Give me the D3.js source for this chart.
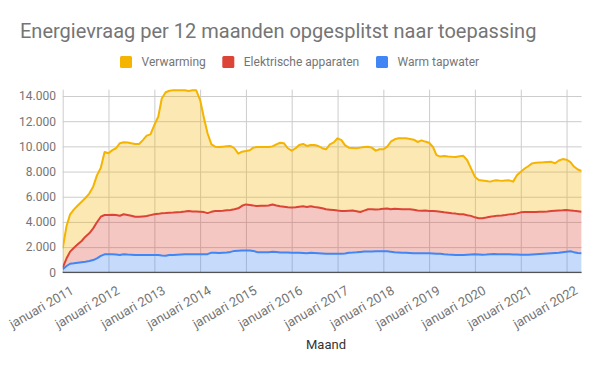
<!DOCTYPE html>
<html>
<head>
<meta charset="utf-8">
<script src="https://cdn.jsdelivr.net/npm/d3@7"></script>
<style>
  body { margin: 0; background: #fff; }
  text { font-family: Roboto, "Noto Sans", sans-serif; }
</style>
</head>
<body>
<div id="chart"></div>
<script>
// series, top of the stack first (legend order)
var seriesNames = ["Verwarming", "Elektrische apparaten", "Warm tapwater"];
var seriesColors = ["#f4b400", "#db4437", "#4285f4"];

// monthly values, januari 2011 .. mei 2022
var verwarming = [
  1530,2590,2960,3045,3080,3115,3070,3155,3310,3730,3885,5000,
  4900,5130,5300,5755,5715,5750,5745,5775,5775,6060,6380,6410,
  7095,7710,9110,9600,9690,9710,9690,9670,9630,9530,9620,9630,
  8880,7450,6340,5360,5115,5080,5085,5080,5080,4850,4340,4300,
  4240,4340,4600,4685,4670,4670,4650,4620,4860,5050,5030,4680,
  4520,4690,4910,4950,4840,4870,4920,4880,4770,4770,5190,5380,
  5740,5630,5240,5020,4980,5000,5110,5050,4965,4900,4670,4760,
  4730,4915,5370,5520,5610,5630,5630,5575,5560,5450,5600,5480,
  5420,5080,4470,4380,4480,4470,4480,4500,4610,4645,4370,3770,
  3225,3030,2990,2900,2790,2820,2800,2750,2740,2700,2570,3020,
  3230,3460,3630,3860,3900,3910,3915,3930,3900,3770,3970,4070,
  3990,3830,3520,3310,3230
];
var elektrisch = [
  130,610,960,1240,1460,1685,1990,2205,2520,2860,3115,3120,
  3120,3140,3130,3115,3175,3140,3095,3035,3035,3060,3090,3160,
  3225,3270,3350,3380,3360,3360,3360,3360,3390,3440,3400,3390,
  3370,3350,3260,3240,3300,3330,3330,3340,3330,3300,3360,3550,
  3650,3620,3600,3665,3680,3690,3700,3750,3680,3670,3640,3600,
  3580,3600,3650,3710,3680,3680,3650,3630,3580,3520,3490,3460,
  3420,3390,3360,3320,3330,3260,3170,3250,3350,3340,3325,3345,
  3375,3395,3360,3440,3450,3450,3450,3470,3460,3390,3370,3390,
  3360,3370,3360,3340,3330,3320,3290,3280,3235,3230,3130,3060,
  2935,2880,2900,2940,2980,3010,3060,3080,3120,3170,3210,3270,
  3360,3380,3390,3370,3350,3340,3335,3330,3350,3350,3350,3320,
  3310,3250,3280,3310,3300
];
var tapwater = [
  240,500,680,715,760,800,840,890,970,1110,1300,1430,
  1430,1430,1420,1380,1430,1410,1400,1380,1380,1380,1380,1380,
  1380,1370,1340,1320,1370,1380,1400,1420,1430,1430,1430,1430,
  1430,1430,1440,1560,1560,1540,1560,1580,1620,1700,1720,1730,
  1740,1730,1700,1600,1600,1590,1600,1630,1620,1570,1570,1570,
  1560,1560,1550,1530,1510,1560,1540,1520,1500,1480,1480,1480,
  1480,1480,1500,1560,1570,1590,1620,1650,1660,1660,1665,1665,
  1665,1665,1640,1600,1580,1560,1560,1540,1510,1510,1510,1510,
  1510,1500,1480,1470,1430,1410,1400,1380,1375,1375,1400,1420,
  1430,1420,1400,1410,1430,1450,1440,1430,1430,1430,1420,1410,
  1400,1400,1400,1420,1440,1460,1480,1500,1520,1540,1560,1600,
  1640,1665,1600,1540,1510
];

var yTicks = [0, 2000, 4000, 6000, 8000, 10000, 12000, 14000];
var xTickYears = [2011,2012,2013,2014,2015,2016,2017,2018,2019,2020,2021,2022];
var xTickLabels = ["januari 2011","januari 2012","januari 2013","januari 2014",
  "januari 2015","januari 2016","januari 2017","januari 2018","januari 2019",
  "januari 2020","januari 2021","januari 2022"];

var width = 600, height = 371;
var plot = {left: 62.7, right: 581.6, top: 89.7, bottom: 272.3};

var svg = d3.select("#chart").append("svg")
  .attr("width", width)
  .attr("height", height);

var months = d3.timeMonth.range(new Date(2011, 0, 1), new Date(2022, 5, 1));
var rows = months.map(function(d, i) {
  return {date: d, tap: tapwater[i], elek: elektrisch[i], verw: verwarming[i]};
});

var x = d3.scaleTime()
  .domain([months[0], months[months.length - 1]])
  .range([plot.left, plot.right]);
var y = d3.scaleLinear()
  .domain([0, 14500])
  .range([plot.bottom, plot.top]);

var nl = d3.formatLocale({decimal: ",", thousands: ".", grouping: [3], currency: ["€", ""]});

// title
svg.append("text")
  .attr("x", 20).attr("y", 38)
  .style("font-size", "20px")
  .style("fill", "#757575")
  .text("Energievraag per 12 maanden opgesplitst naar toepassing");

// legend
var legendX = [120, 222.3, 376];
seriesNames.forEach(function(name, i) {
  var g = svg.append("g").attr("transform", "translate(" + legendX[i] + ",56)");
  g.append("rect").attr("width", 12).attr("height", 12).attr("rx", 1.5)
    .style("fill", seriesColors[i]);
  g.append("text").attr("x", 21.5).attr("y", 10.4)
    .style("font-size", "12px").style("fill", "#757575")
    .text(name);
});

// horizontal gridlines + y labels
var yAxis = svg.append("g")
  .attr("transform", "translate(" + plot.left + ",0)")
  .call(d3.axisLeft(y).tickValues(yTicks).tickSize(-(plot.right - plot.left))
    .tickPadding(6.7).tickFormat(nl.format(",")));
yAxis.select(".domain").remove();
yAxis.selectAll("line").style("stroke", "#cccccc");
yAxis.selectAll("text").style("font-size", "12px").style("fill", "#757575")
  .attr("font-family", null);

// vertical gridlines at each januari
var janDates = xTickYears.map(function(yr) { return new Date(yr, 0, 1); });
var xGrid = svg.append("g")
  .attr("transform", "translate(0," + plot.bottom + ")")
  .call(d3.axisBottom(x).tickValues(janDates).tickSize(-(plot.bottom - plot.top)).tickFormat(""));
xGrid.select(".domain").remove();
xGrid.selectAll("line").style("stroke", "#cccccc");

// stacked areas
var keys = ["tap", "elek", "verw"];
var stackColors = ["#4285f4", "#db4437", "#f4b400"];
var layers = d3.stack().keys(keys)(rows);

var area = d3.area()
  .x(function(d) { return x(d.data.date); })
  .y0(function(d) { return y(d[0]); })
  .y1(function(d) { return y(d[1]); });
var line = d3.line()
  .x(function(d) { return x(d.data.date); })
  .y(function(d) { return y(d[1]); });

svg.append("defs").append("clipPath").attr("id", "clip")
  .append("rect")
  .attr("x", plot.left).attr("y", plot.top - 1)
  .attr("width", plot.right - plot.left).attr("height", plot.bottom - plot.top + 1);

var marks = svg.append("g").attr("clip-path", "url(#clip)");
marks.selectAll("path.area")
  .data(layers)
  .enter().append("path")
  .attr("class", "area")
  .attr("d", area)
  .style("fill", function(d, i) { return stackColors[i]; })
  .style("fill-opacity", 0.3);
marks.selectAll("path.line")
  .data(layers)
  .enter().append("path")
  .attr("class", "line")
  .attr("d", line)
  .style("fill", "none")
  .style("stroke", function(d, i) { return stackColors[i]; })
  .style("stroke-width", 2)
  .style("stroke-linejoin", "round");

// baseline
svg.append("line")
  .attr("x1", plot.left).attr("x2", plot.right)
  .attr("y1", y(0)).attr("y2", y(0))
  .style("stroke", "#333333").style("stroke-width", 1);

// slanted x labels
svg.append("g").selectAll("text")
  .data(janDates)
  .enter().append("text")
  .attr("transform", function(d) { return "translate(" + (x(d) + 12) + ",293) rotate(-30)"; })
  .attr("text-anchor", "end")
  .style("font-size", "13px")
  .style("fill", "#757575")
  .text(function(d, i) { return xTickLabels[i]; });

// x axis title
svg.append("text")
  .attr("x", 326).attr("y", 349)
  .attr("text-anchor", "middle")
  .style("font-size", "13px")
  .style("fill", "#333333")
  .text("Maand");
</script>
</body>
</html>
